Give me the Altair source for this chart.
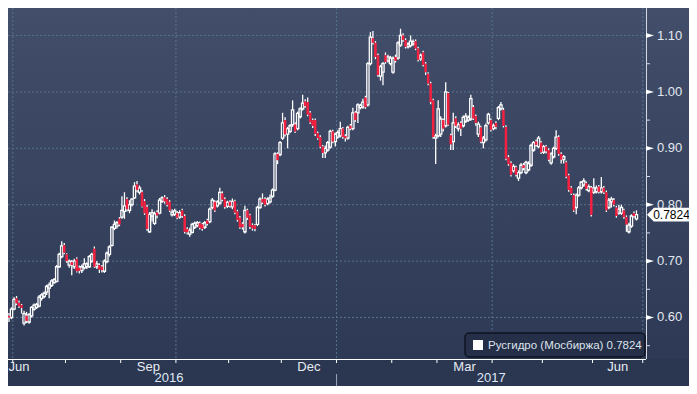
import altair as alt
import pandas as pd

# ---- daily candles (trading-day index 0..253) ----
opens = [
    0.600, 0.605, 0.598, 0.603, 0.600, 0.615, 0.634, 0.626, 0.622, 0.590,
    0.603, 0.592, 0.603, 0.615, 0.618, 0.620, 0.634, 0.637, 0.645, 0.652,
    0.657, 0.662, 0.664, 0.690, 0.708, 0.728, 0.712, 0.693, 0.698, 0.690,
    0.704, 0.688, 0.683, 0.688, 0.690, 0.690, 0.700, 0.722, 0.690, 0.693,
    0.690, 0.682, 0.699, 0.712, 0.728, 0.758, 0.762, 0.775, 0.778, 0.788,
    0.810, 0.790, 0.800, 0.812, 0.836, 0.822, 0.822, 0.806, 0.796, 0.752,
    0.780, 0.767, 0.786, 0.785, 0.806, 0.813, 0.810, 0.805, 0.782, 0.783,
    0.785, 0.778, 0.790, 0.780, 0.757, 0.748, 0.751, 0.760, 0.763, 0.767,
    0.765, 0.760, 0.772, 0.770, 0.795, 0.805, 0.798, 0.803, 0.820, 0.810,
    0.797, 0.805, 0.796, 0.806, 0.788, 0.777, 0.766, 0.752, 0.790, 0.781,
    0.764, 0.763, 0.765, 0.795, 0.810, 0.810, 0.802, 0.805, 0.815, 0.826,
    0.890, 0.889, 0.918, 0.950, 0.925, 0.930, 0.942, 0.942, 0.935, 0.956,
    0.970, 0.983, 0.982, 0.963, 0.950, 0.950, 0.927, 0.920, 0.903, 0.892,
    0.897, 0.902, 0.930, 0.912, 0.920, 0.922, 0.935, 0.922, 0.918, 0.940,
    0.935, 0.963, 0.963, 0.972, 0.973, 0.990, 0.977, 1.050, 1.095, 1.087,
    1.065, 1.028, 1.035, 1.065, 1.055, 1.050, 1.035, 1.062, 1.060, 1.083,
    1.100, 1.092, 1.080, 1.082, 1.085, 1.090, 1.077, 1.058, 1.070, 1.050,
    1.032, 1.015, 0.985, 0.918, 0.922, 0.925, 0.950, 0.940, 0.998, 0.923,
    0.912, 0.953, 0.935, 0.945, 0.940, 0.948, 0.950, 0.952, 0.973, 0.957,
    0.925, 0.937, 0.910, 0.915, 0.945, 0.950, 0.935, 0.945, 0.953, 0.970,
    0.968, 0.938, 0.884, 0.874, 0.860, 0.866, 0.847, 0.857, 0.870, 0.857,
    0.862, 0.870, 0.897, 0.912, 0.903, 0.910, 0.893, 0.903, 0.897, 0.874,
    0.885, 0.900, 0.920, 0.890, 0.880, 0.875, 0.852, 0.830, 0.817, 0.795,
    0.817, 0.830, 0.835, 0.838, 0.825, 0.830, 0.822, 0.823, 0.832, 0.823,
    0.830, 0.822, 0.795, 0.805, 0.808, 0.795, 0.785, 0.785, 0.790, 0.778,
    0.752, 0.762, 0.785, 0.775,
]
closes = [
    0.605, 0.598, 0.603, 0.600, 0.615, 0.632, 0.625, 0.620, 0.617, 0.607,
    0.594, 0.605, 0.618, 0.622, 0.623, 0.636, 0.640, 0.643, 0.655, 0.658,
    0.665, 0.667, 0.690, 0.712, 0.727, 0.715, 0.700, 0.700, 0.693, 0.700,
    0.682, 0.683, 0.690, 0.695, 0.695, 0.708, 0.712, 0.690, 0.695, 0.685,
    0.684, 0.700, 0.714, 0.725, 0.760, 0.765, 0.768, 0.765, 0.790, 0.798,
    0.792, 0.800, 0.810, 0.833, 0.826, 0.830, 0.797, 0.785, 0.757, 0.783,
    0.786, 0.784, 0.781, 0.808, 0.812, 0.806, 0.800, 0.790, 0.787, 0.789,
    0.777, 0.786, 0.780, 0.752, 0.751, 0.755, 0.765, 0.767, 0.768, 0.759,
    0.757, 0.768, 0.766, 0.792, 0.808, 0.790, 0.805, 0.822, 0.809, 0.796,
    0.804, 0.798, 0.806, 0.786, 0.773, 0.760, 0.760, 0.790, 0.777, 0.761,
    0.758, 0.757, 0.795, 0.810, 0.804, 0.800, 0.810, 0.812, 0.826, 0.890,
    0.879, 0.910, 0.945, 0.925, 0.935, 0.940, 0.968, 0.930, 0.962, 0.970,
    0.980, 0.975, 0.960, 0.946, 0.940, 0.926, 0.918, 0.903, 0.892, 0.900,
    0.910, 0.930, 0.912, 0.925, 0.928, 0.935, 0.920, 0.918, 0.937, 0.935,
    0.963, 0.950, 0.977, 0.976, 0.982, 0.973, 1.050, 1.097, 1.087, 1.062,
    1.030, 1.045, 1.050, 1.053, 1.062, 1.060, 1.060, 1.055, 1.087, 1.100,
    1.092, 1.080, 1.085, 1.090, 1.089, 1.077, 1.057, 1.065, 1.048, 1.035,
    1.015, 0.982, 0.920, 0.922, 0.970, 0.952, 0.935, 1.000, 0.942, 0.907,
    0.945, 0.940, 0.942, 0.935, 0.955, 0.957, 0.955, 0.988, 0.953, 0.945,
    0.943, 0.912, 0.918, 0.940, 0.960, 0.933, 0.940, 0.938, 0.972, 0.977,
    0.940, 0.882, 0.872, 0.853, 0.868, 0.853, 0.857, 0.870, 0.865, 0.875,
    0.873, 0.905, 0.910, 0.906, 0.918, 0.893, 0.903, 0.895, 0.880, 0.890,
    0.900, 0.920, 0.890, 0.880, 0.885, 0.850, 0.826, 0.820, 0.790, 0.817,
    0.830, 0.840, 0.842, 0.828, 0.832, 0.782, 0.830, 0.830, 0.823, 0.830,
    0.822, 0.790, 0.808, 0.810, 0.800, 0.780, 0.792, 0.795, 0.778, 0.765,
    0.764, 0.780, 0.780, 0.7824,
]
highs = [
    0.610, 0.612, 0.607, 0.608, 0.618, 0.636, 0.638, 0.630, 0.624, 0.612,
    0.610, 0.608, 0.620, 0.625, 0.626, 0.640, 0.643, 0.646, 0.658, 0.662,
    0.668, 0.670, 0.693, 0.715, 0.735, 0.732, 0.714, 0.703, 0.702, 0.704,
    0.707, 0.692, 0.694, 0.705, 0.698, 0.711, 0.715, 0.726, 0.700, 0.696,
    0.693, 0.703, 0.717, 0.728, 0.762, 0.772, 0.771, 0.778, 0.815, 0.822,
    0.813, 0.808, 0.812, 0.840, 0.842, 0.834, 0.826, 0.810, 0.800, 0.787,
    0.792, 0.788, 0.790, 0.812, 0.815, 0.817, 0.813, 0.808, 0.792, 0.793,
    0.789, 0.790, 0.793, 0.783, 0.760, 0.759, 0.768, 0.770, 0.771, 0.770,
    0.768, 0.771, 0.775, 0.795, 0.812, 0.808, 0.808, 0.830, 0.824, 0.813,
    0.807, 0.808, 0.811, 0.809, 0.791, 0.780, 0.769, 0.798, 0.793, 0.784,
    0.767, 0.766, 0.798, 0.813, 0.820, 0.813, 0.813, 0.818, 0.829, 0.893,
    0.893, 0.913, 0.963, 0.955, 0.938, 0.943, 0.985, 0.946, 0.965, 0.973,
    0.995, 0.987, 0.990, 0.966, 0.953, 0.953, 0.930, 0.923, 0.906, 0.905,
    0.913, 0.933, 0.933, 0.928, 0.932, 0.947, 0.938, 0.925, 0.940, 0.943,
    0.972, 0.966, 0.980, 0.979, 0.988, 0.993, 1.053, 1.106, 1.108, 1.090,
    1.068, 1.048, 1.053, 1.070, 1.066, 1.064, 1.063, 1.066, 1.090, 1.112,
    1.104, 1.095, 1.088, 1.100, 1.093, 1.093, 1.080, 1.068, 1.073, 1.053,
    1.035, 1.018, 0.988, 0.926, 0.985, 0.957, 0.953, 1.017, 1.000, 0.926,
    0.963, 0.957, 0.946, 0.948, 0.958, 0.962, 0.958, 0.995, 0.977, 0.960,
    0.947, 0.940, 0.922, 0.944, 0.963, 0.953, 0.944, 0.948, 0.975, 0.982,
    0.972, 0.941, 0.888, 0.877, 0.872, 0.869, 0.861, 0.874, 0.874, 0.878,
    0.877, 0.908, 0.913, 0.915, 0.922, 0.913, 0.906, 0.906, 0.900, 0.893,
    0.903, 0.932, 0.923, 0.893, 0.888, 0.878, 0.855, 0.833, 0.820, 0.820,
    0.833, 0.842, 0.847, 0.841, 0.836, 0.833, 0.847, 0.834, 0.835, 0.849,
    0.833, 0.825, 0.812, 0.814, 0.812, 0.798, 0.800, 0.800, 0.793, 0.781,
    0.768, 0.783, 0.788, 0.790,
]
lows = [
    0.590, 0.588, 0.585, 0.592, 0.597, 0.613, 0.622, 0.617, 0.607, 0.586,
    0.590, 0.589, 0.600, 0.612, 0.615, 0.618, 0.630, 0.634, 0.640, 0.634,
    0.654, 0.660, 0.662, 0.688, 0.705, 0.712, 0.697, 0.688, 0.675, 0.686,
    0.680, 0.678, 0.679, 0.685, 0.686, 0.688, 0.697, 0.688, 0.686, 0.679,
    0.680, 0.679, 0.696, 0.708, 0.726, 0.755, 0.758, 0.762, 0.775, 0.775,
    0.788, 0.785, 0.797, 0.810, 0.822, 0.818, 0.795, 0.782, 0.754, 0.750,
    0.770, 0.764, 0.776, 0.783, 0.803, 0.802, 0.797, 0.787, 0.779, 0.780,
    0.774, 0.775, 0.777, 0.749, 0.747, 0.743, 0.749, 0.757, 0.760, 0.756,
    0.754, 0.757, 0.763, 0.767, 0.792, 0.787, 0.795, 0.800, 0.806, 0.793,
    0.794, 0.795, 0.792, 0.783, 0.770, 0.757, 0.756, 0.749, 0.773, 0.757,
    0.754, 0.753, 0.762, 0.793, 0.801, 0.797, 0.799, 0.802, 0.812, 0.824,
    0.872, 0.886, 0.915, 0.921, 0.900, 0.927, 0.938, 0.927, 0.932, 0.953,
    0.967, 0.972, 0.957, 0.943, 0.936, 0.922, 0.915, 0.900, 0.883, 0.883,
    0.894, 0.899, 0.909, 0.903, 0.917, 0.919, 0.917, 0.912, 0.915, 0.932,
    0.932, 0.947, 0.945, 0.969, 0.970, 0.970, 0.974, 1.047, 1.084, 1.058,
    1.027, 1.020, 1.012, 1.050, 1.052, 1.047, 1.032, 1.052, 1.057, 1.080,
    1.089, 1.077, 1.077, 1.079, 1.082, 1.074, 1.054, 1.055, 1.045, 1.030,
    1.012, 0.978, 0.917, 0.872, 0.919, 0.920, 0.930, 0.937, 0.940, 0.897,
    0.897, 0.936, 0.930, 0.922, 0.937, 0.945, 0.947, 0.949, 0.950, 0.940,
    0.920, 0.909, 0.900, 0.912, 0.942, 0.930, 0.932, 0.934, 0.950, 0.967,
    0.937, 0.879, 0.869, 0.850, 0.857, 0.850, 0.842, 0.854, 0.861, 0.854,
    0.859, 0.867, 0.894, 0.903, 0.900, 0.890, 0.890, 0.891, 0.877, 0.871,
    0.882, 0.897, 0.887, 0.873, 0.873, 0.847, 0.823, 0.817, 0.787, 0.783,
    0.814, 0.827, 0.832, 0.825, 0.822, 0.779, 0.819, 0.820, 0.820, 0.820,
    0.819, 0.787, 0.792, 0.795, 0.797, 0.777, 0.782, 0.782, 0.775, 0.752,
    0.749, 0.759, 0.777, 0.772,
]

# month starts (Jul 2016 .. Jul 2017) on the trading-day index
month_bounds = [4.5, 25.5, 47.5, 69.5, 90.5, 111.5, 133.5, 155.5, 173.5,
                195.5, 215.5, 235.5, 255.5]
quarter_bounds = [4.5, 69.5, 133.5, 195.5, 255.5]
month_labels = ["Jun", "Sep", "Dec", "Mar", "Jun"]
year_labels = ["2016", "2017"]
y_ticks = [0.55, 0.60, 0.65, 0.70, 0.75, 0.80, 0.85, 0.90, 0.95, 1.00, 1.05, 1.10]
y_major = [0.60, 0.70, 0.80, 0.90, 1.00, 1.10]
series_name = "Русгидро (Мосбиржа)"

# ---- frames ----
df = pd.DataFrame({"i": range(len(closes)), "o": opens, "c": closes,
                   "h": highs, "l": lows})
df["top"] = df[["o", "c"]].max(axis=1)
df["bot"] = df[["o", "c"]].min(axis=1)
df["up"] = df["c"] >= df["o"]
up_df = df[df["up"]]
dn_df = df[~df["up"]]

X_MIN, X_MAX = 2.6, 256.8
W, H = 638, 351
xs = alt.Scale(domain=[X_MIN, X_MAX], nice=False, zero=False)
ys = alt.Scale(domain=[0.5264, 1.1488], nice=False, zero=False)

one = pd.DataFrame({"k": [0]})
# month labels centred in their month; the first (June 2016) is clamped into view
jun16_mid = month_bounds[0] - (month_bounds[1] - month_bounds[0]) / 2
mlab_pos = [max(jun16_mid, X_MIN + 4.4)] + [
    (month_bounds[k] + month_bounds[k + 1]) / 2 for k in (2, 5, 8, 11)]
mlab_df = pd.DataFrame({"lab": month_labels, "pos": mlab_pos})
ylab_df = pd.DataFrame({"lab": year_labels,
                        "pos": [(0 + month_bounds[6]) / 2, (month_bounds[6] + X_MAX) / 2]})
yb_df = pd.DataFrame({"b": [month_bounds[6]]})
qb_df = pd.DataFrame({"b": quarter_bounds})
mb_df = pd.DataFrame({"b": month_bounds})
hg_df = pd.DataFrame({"v": y_major, "t": [f"{v:.2f}" for v in y_major]})
yt_df = pd.DataFrame({"v": y_ticks})
last = closes[-1]
tag_df = pd.DataFrame({"v": [last], "t": [f"{last:.4f}"]})
leg_df = pd.DataFrame({"t": [f"{series_name}  {last:.4f}"]})

FONT = "Liberation Sans"
GRID = "#56728c"
AXC = "#d4d8e0"

bg = alt.Chart(one).mark_rect(
    fill={"gradient": "linear", "x1": 0, "y1": 0, "x2": 0, "y2": 1,
          "stops": [{"offset": 0, "color": "#434f6a"},
                    {"offset": 0.15, "color": "#3f4b66"},
                    {"offset": 0.45, "color": "#394561"},
                    {"offset": 0.75, "color": "#323e5a"},
                    {"offset": 1, "color": "#2e3955"}]}
).encode(x=alt.value(0), x2=alt.value(681), y=alt.value(0), y2=alt.value(H))

hgrid = alt.Chart(hg_df).mark_rule(color=GRID, strokeDash=[2, 2], strokeWidth=1).encode(
    y=alt.Y("v:Q", scale=ys, axis=None), x=alt.value(0), x2=alt.value(W))
vgrid = alt.Chart(qb_df).mark_rule(color=GRID, strokeDash=[2, 2], strokeWidth=1).encode(
    x=alt.X("b:Q", scale=xs, axis=None), y=alt.value(0), y2=alt.value(H))

# hand-drawn axes (so that the price tag can sit above them)
x_dom = alt.Chart(one).mark_rule(color="#ffffff", strokeWidth=1).encode(
    x=alt.value(0), x2=alt.value(W), y=alt.value(H + 0.5))
x_ticks = alt.Chart(mb_df).mark_rule(color="#ffffff", strokeWidth=1).encode(
    x=alt.X("b:Q", scale=xs, axis=None), y=alt.value(H), y2=alt.value(H + 4))
y_dom = alt.Chart(one).mark_rule(color=AXC, strokeWidth=1).encode(
    x=alt.value(W + 0.5), y=alt.value(0), y2=alt.value(H))
y_minor = alt.Chart(yt_df).mark_rule(color=AXC, strokeWidth=1).encode(
    y=alt.Y("v:Q", scale=ys, axis=None), x=alt.value(W), x2=alt.value(W + 4))
tri = alt.Chart(hg_df).mark_point(
    shape="M-1,-0.6L1,0L-1,0.6Z", filled=True, color="white", opacity=1, size=64
).encode(y=alt.Y("v:Q", scale=ys, axis=None), x=alt.value(W + 4))
y_lab = alt.Chart(hg_df).mark_text(
    font=FONT, fontSize=13, color="#e3e8f0", align="left", baseline="middle"
).encode(y=alt.Y("v:Q", scale=ys, axis=None), x=alt.value(W + 11), text="t:N")

wick_up = alt.Chart(df).mark_rule(color="white", strokeWidth=1.3, clip=True).encode(
    x=alt.X("i:Q", scale=xs, axis=None),
    y=alt.Y("h:Q", scale=ys, axis=None), y2="top:Q")
wick_dn = alt.Chart(df).mark_rule(color="white", strokeWidth=1.3, clip=True).encode(
    x=alt.X("i:Q", scale=xs, axis=None),
    y=alt.Y("bot:Q", scale=ys, axis=None), y2="l:Q")

body_up = alt.Chart(up_df).transform_calculate(
    xa="datum.i - 0.45", xb="datum.i + 0.45"
).mark_rect(fill="white", fillOpacity=0, stroke="white", strokeWidth=1.3, clip=True).encode(
    x=alt.X("xa:Q", scale=xs, axis=None), x2="xb:Q",
    y=alt.Y("top:Q", scale=ys, axis=None), y2="bot:Q")
body_dn = alt.Chart(dn_df).transform_calculate(
    xa="datum.i - 0.5", xb="datum.i + 0.5"
).mark_rect(color="#f3203f", clip=True).encode(
    x=alt.X("xa:Q", scale=xs, axis=None), x2="xb:Q",
    y=alt.Y("top:Q", scale=ys, axis=None), y2="bot:Q")

mlab = alt.Chart(mlab_df).mark_text(
    font=FONT, fontSize=13, color="#e6ebf2", align="center", baseline="alphabetic"
).encode(x=alt.X("pos:Q", scale=xs, axis=None), y=alt.value(363), text="lab:N")
ylab = alt.Chart(ylab_df).mark_text(
    font=FONT, fontSize=13, color="#dfe8f5", align="center", baseline="alphabetic"
).encode(x=alt.X("pos:Q", scale=xs, axis=None), y=alt.value(374), text="lab:N")
ysep = alt.Chart(yb_df).mark_rule(color="#9aa3b5", strokeWidth=1).encode(
    x=alt.X("b:Q", scale=xs, axis=None), y=alt.value(366), y2=alt.value(378))

leg_box = alt.Chart(one).mark_rect(
    fill="#262f48", stroke="#0e1322", strokeWidth=1.5, cornerRadius=4
).encode(x=alt.value(457), x2=alt.value(637), y=alt.value(325), y2=alt.value(349))
leg_sq = alt.Chart(one).mark_rect(fill="white").encode(
    x=alt.value(465), x2=alt.value(475), y=alt.value(332), y2=alt.value(342))
leg_txt = alt.Chart(leg_df).mark_text(
    font=FONT, fontSize=11.5, color="#dde3ec", align="left", baseline="middle"
).encode(x=alt.value(480), y=alt.value(337.5), text="t:N")

tag_rect = alt.Chart(tag_df).transform_calculate(
    ya="datum.v + 0.0122", yb="datum.v - 0.0122"
).mark_rect(fill="white").encode(
    x=alt.value(646), x2=alt.value(681),
    y=alt.Y("ya:Q", scale=ys, axis=None), y2="yb:Q")
tag_tri = alt.Chart(tag_df).mark_point(
    shape="M-0.5,0L0.5,-1L0.5,1Z", filled=True, color="white", opacity=1, size=196
).encode(x=alt.value(642.5), y=alt.Y("v:Q", scale=ys, axis=None))
tag_txt = alt.Chart(tag_df).mark_text(
    font=FONT, fontSize=12, color="black", align="center", baseline="middle"
).encode(x=alt.value(663.5), y=alt.Y("v:Q", scale=ys, axis=None), text="t:N")

chart = alt.layer(
    bg, hgrid, vgrid, wick_up, wick_dn, body_up, body_dn,
    x_dom, x_ticks, y_dom, y_minor, tri, y_lab,
    mlab, ylab, ysep, leg_box, leg_sq, leg_txt, tag_rect, tag_tri, tag_txt
).properties(
    width=W, height=H,
    autosize=alt.AutoSizeParams(type="none"),
    padding={"left": 0, "top": 0, "right": 43, "bottom": 27},
    background="#2b3651",
).configure_view(stroke=None)

chart.save("out.html", embed_options={"renderer": "svg", "actions": False})
